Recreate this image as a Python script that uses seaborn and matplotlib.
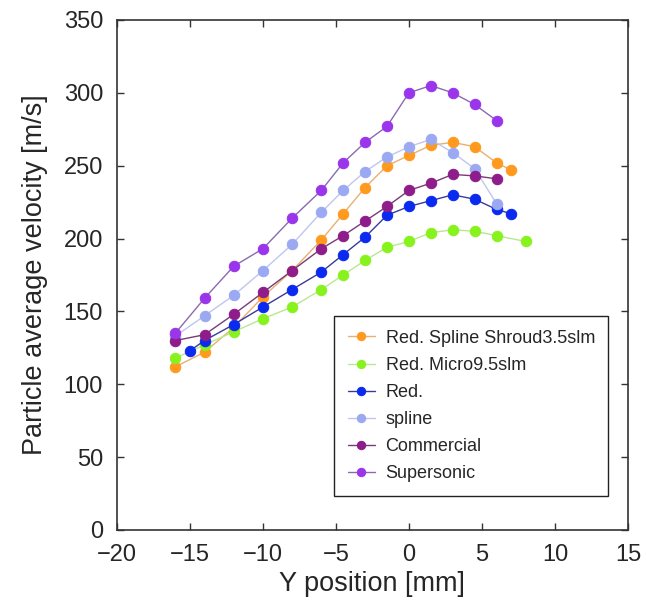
import numpy as np
import pandas as pd
import matplotlib
matplotlib.use("Agg")
import matplotlib.pyplot as plt
import seaborn as sns

# x positions (mm)
x_shroud = [-16, -14, -12, -10, -8, -6, -4.5, -3, -1.5, 0, 1.5, 3, 4.5, 6, 7]
v_shroud = [112, 122, 139, 160, 178, 199, 217, 235, 250, 257, 264, 266, 263, 252, 247]

x_micro = [-16, -14, -12, -10, -8, -6, -4.5, -3, -1.5, 0, 1.5, 3, 4.5, 6, 8]
v_micro = [118, 127, 136, 145, 153, 165, 175, 185, 194, 198, 204, 206, 205, 202, 198]

x_red = [-15, -14, -12, -10, -8, -6, -4.5, -3, -1.5, 0, 1.5, 3, 4.5, 6, 7]
v_red = [123, 130, 141, 153, 165, 177, 189, 201, 216, 222, 226, 230, 227, 220, 217]

x_spline = [-16, -14, -12, -10, -8, -6, -4.5, -3, -1.5, 0, 1.5, 3, 4.5, 6]
v_spline = [133, 147, 161, 178, 196, 218, 233, 246, 256, 263, 268, 259, 248, 224]

x_comm = [-16, -14, -12, -10, -8, -6, -4.5, -3, -1.5, 0, 1.5, 3, 4.5, 6]
v_comm = [130, 134, 148, 163, 178, 193, 202, 212, 222, 233, 238, 244, 243, 241]

x_super = [-16, -14, -12, -10, -8, -6, -4.5, -3, -1.5, 0, 1.5, 3, 4.5, 6]
v_super = [135, 159, 181, 193, 214, 233, 252, 266, 277, 300, 305, 300, 292, 281]

labels = ["Red. Spline Shroud3.5slm", "Red. Micro9.5slm", "Red.",
          "spline", "Commercial", "Supersonic"]

series = [(x_shroud, v_shroud), (x_micro, v_micro), (x_red, v_red),
          (x_spline, v_spline), (x_comm, v_comm), (x_super, v_super)]

marker_colors = ["#FF9A1E", "#88F21E", "#0A2AF0", "#9AA9F2", "#8E1C8A", "#9A35EC"]
line_colors = ["#E8B070", "#B8E890", "#3A3A9A", "#C0C6EE", "#7A3A78", "#8A6AB0"]

sns.set_style("ticks")
plt.rcParams["font.family"] = ["Liberation Sans", "DejaVu Sans"]
plt.rcParams["xtick.direction"] = "in"
plt.rcParams["ytick.direction"] = "in"
plt.rcParams["xtick.top"] = True
plt.rcParams["ytick.right"] = True

fig = plt.figure(figsize=(6.46, 6.05), dpi=100)
ax = fig.add_axes([0.181, 0.124, 0.791, 0.843])

for (xs, vs), lab, mc, lc in zip(series, labels, marker_colors, line_colors):
    df = pd.DataFrame({"x": xs, "v": vs})
    sns.lineplot(data=df, x="x", y="v", ax=ax, sort=False, label=lab,
                 color=lc, linewidth=1.0, marker="o", markersize=7.5,
                 markerfacecolor=mc, markeredgecolor=mc)

ax.set_xlim(-20, 15)
ax.set_ylim(0, 350)
ax.set_xticks(np.arange(-20, 16, 5))
ax.set_yticks(np.arange(0, 351, 50))
ax.tick_params(labelsize=17, length=5, width=1, color="#333333")
ax.tick_params(axis="x", pad=10)
ax.tick_params(axis="y", pad=10)
for sp in ax.spines.values():
    sp.set_linewidth(1.2)
    sp.set_color("#333333")

ax.set_xlabel("Y position [mm]", fontsize=19.5, labelpad=4)
ax.set_ylabel("Particle average velocity [m/s]", fontsize=19.5, labelpad=11)

leg = ax.legend(loc="lower right", bbox_to_anchor=(0.962, 0.067), fontsize=13,
                frameon=True, fancybox=False, handlelength=1.5,
                labelspacing=0.56, borderpad=0.75, handletextpad=0.6,
                borderaxespad=0, markerscale=0.8)
leg.get_frame().set_edgecolor("#222222")
leg.get_frame().set_linewidth(1.0)
leg.get_frame().set_alpha(1)

fig.savefig("out.png", dpi=100)
